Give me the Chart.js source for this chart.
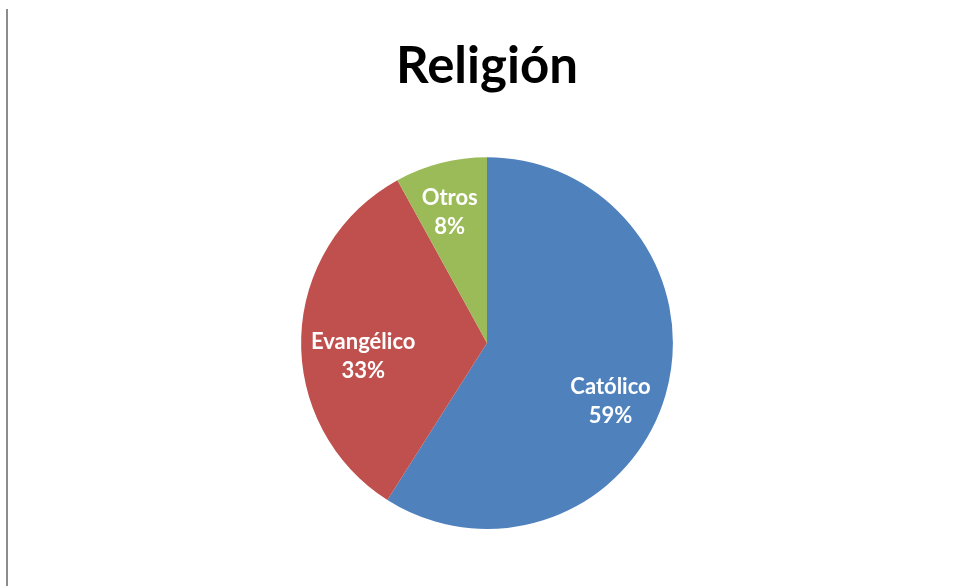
<!DOCTYPE html>
<html>
<head>
<meta charset="utf-8">
<script src="https://cdn.jsdelivr.net/npm/chart.js@4.4.1/dist/chart.umd.min.js"></script>
<style>
  html, body { margin: 0; padding: 0; background: #ffffff; }
  #wrap { position: relative; width: 955px; height: 586px; }
  #edge { position: absolute; left: 6px; top: 9px; width: 2px; height: 577px; background: #8c8c8c; }
  canvas { position: absolute; left: 0; top: 0; }
</style>
</head>
<body>
<div id="wrap">
  <div id="edge"></div>
  <canvas id="myChart" width="955" height="586"></canvas>
</div>
<script>
const categories = ["Católico", "Evangélico", "Otros"];
const values = [59, 33, 8];
const sliceColors = ["#4F81BD", "#C0504D", "#9BBB59"];

//Draw category and percent inside each slice
const sliceLabels = {
  id: "sliceLabels",
  afterDatasetsDraw(chart, args, opts) {
    const ctx = chart.ctx;
    const meta = chart.getDatasetMeta(0);
    const total = values.reduce((a, b) => a + b, 0);
    ctx.save();
    ctx.fillStyle = "#ffffff";
    ctx.font = "bold 22px Lato";
    ctx.textAlign = "center";
    ctx.textBaseline = "middle";
    meta.data.forEach((arc, i) => {
      const mid = (arc.startAngle + arc.endAngle) / 2;
      const r = arc.outerRadius * 0.72;
      //small nudge so labels sit where the original placed them
      const nudge = opts.nudge[i] || [0, 0];
      const x = arc.x + Math.cos(mid) * r + nudge[0];
      const y = arc.y + Math.sin(mid) * r + nudge[1];
      const pct = Math.round((values[i] / total) * 100) + "%";
      ctx.fillText(categories[i], x, y - 15);
      ctx.fillText(pct, x, y + 14);
    });
    ctx.restore();
  },
};

var ctx = document.getElementById("myChart");
new Chart(ctx, {
  type: "pie",
  data: {
    labels: categories,
    datasets: [
      {
        data: values,
        backgroundColor: sliceColors,
        borderWidth: 0,
      },
    ],
  },
  options: {
    responsive: false,
    animation: false,
    layout: {
      padding: { top: 0, bottom: 57, left: 19, right: 0 },
    },
    plugins: {
      legend: { display: false },
      tooltip: { enabled: false },
      title: {
        display: true,
        text: "Religión",
        color: "#000000",
        font: { family: "Lato", size: 51, weight: "bold" },
        padding: { top: 36, bottom: 60 },
      },
      sliceLabels: {
        nudge: [[-5, 21], [10, 18], [-4, -1]],
      },
    },
  },
  plugins: [sliceLabels],
});
</script>
</body>
</html>
